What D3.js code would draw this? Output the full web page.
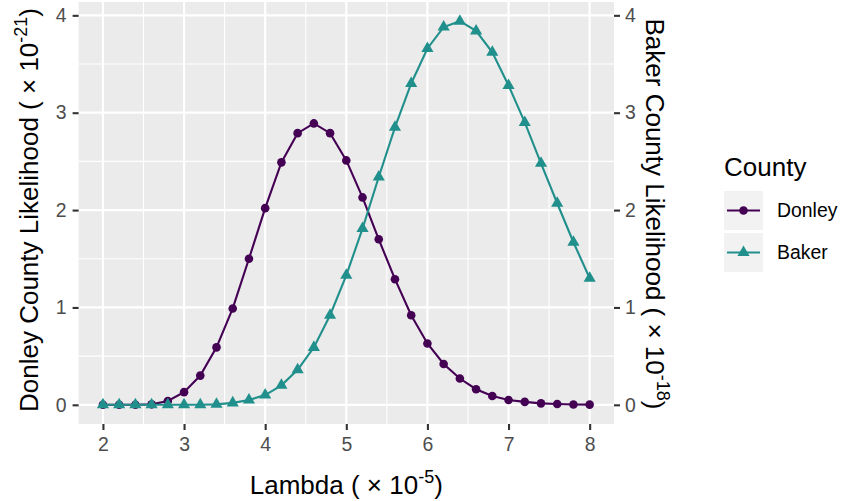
<!DOCTYPE html>
<html>
<head>
<meta charset="utf-8">
<script src="https://cdn.jsdelivr.net/npm/d3@7"></script>
<style>
body{margin:0;background:#fff;}
svg{font-family:"Liberation Sans",Arial,sans-serif;}
</style>
</head>
<body>
<svg id="chart" width="847" height="501"></svg>
<script>
// lambda values (x 10^-5)
const lambda = [2,2.2,2.4,2.6,2.8,3,3.2,3.4,3.6,3.8,4,4.2,4.4,4.6,4.8,5,5.2,5.4,5.6,5.8,6,6.2,6.4,6.6,6.8,7,7.2,7.4,7.6,7.8,8];
// Donley likelihood (x 10^-21)
const donley = [0,0,0.001,0.005,0.04,0.13,0.3,0.59,0.99,1.5,2.02,2.49,2.79,2.89,2.79,2.51,2.13,1.7,1.29,0.92,0.63,0.42,0.27,0.16,0.09,0.05,0.03,0.015,0.008,0.004,0.002];
// Baker likelihood (x 10^-18)
const baker = [0,0,0,0,0,0,0.001,0.005,0.02,0.05,0.1,0.2,0.36,0.59,0.92,1.33,1.81,2.34,2.85,3.3,3.66,3.88,3.94,3.84,3.62,3.28,2.9,2.48,2.07,1.67,1.3];
const counties = ["Donley","Baker"];
const colors = ["#440154","#21908C"];
const xTicks = [2,3,4,5,6,7,8];
const yTicks = [0,1,2,3,4];

const svg = d3.select("#chart");
const L = 78.6, R = 614, T = 2, B = 424;

const xmin = d3.min(lambda), xmax = d3.max(lambda);
const xpad = (xmax-xmin)*0.05;
const x = d3.scaleLinear().domain([xmin-xpad, xmax+xpad]).range([L,R]);
const ymax = d3.max(donley.concat(baker));
const y = d3.scaleLinear().domain([-ymax*0.05, ymax*1.05]).range([B,T]);

// panel
svg.append("rect").attr("x",L).attr("y",T).attr("width",R-L).attr("height",B-T).attr("fill","#EBEBEB");

const xMinor = [2.5,3.5,4.5,5.5,6.5,7.5];
const yMinor = [0.5,1.5,2.5,3.5];
const grid = svg.append("g");
grid.selectAll(".xm").data(xMinor).enter().append("line")
  .attr("x1",d=>x(d)).attr("x2",d=>x(d)).attr("y1",T).attr("y2",B)
  .attr("stroke","#fff").attr("stroke-width",1.1);
grid.selectAll(".ym").data(yMinor).enter().append("line")
  .attr("x1",L).attr("x2",R).attr("y1",d=>y(d)).attr("y2",d=>y(d))
  .attr("stroke","#fff").attr("stroke-width",1.1);
grid.selectAll(".xM").data(xTicks).enter().append("line")
  .attr("x1",d=>x(d)).attr("x2",d=>x(d)).attr("y1",T).attr("y2",B)
  .attr("stroke","#fff").attr("stroke-width",2.2);
grid.selectAll(".yM").data(yTicks).enter().append("line")
  .attr("x1",L).attr("x2",R).attr("y1",d=>y(d)).attr("y2",d=>y(d))
  .attr("stroke","#fff").attr("stroke-width",2.2);

// axes
function styleAxis(g){
  g.select(".domain").remove();
  g.selectAll(".tick line").attr("stroke","#333333").attr("stroke-width",2.1);
  g.selectAll(".tick text").attr("fill","#4D4D4D").style("font-size","19.4px").style("font-family","Liberation Sans, Arial, sans-serif");
}
svg.append("g").attr("transform",`translate(0,${B})`)
  .call(d3.axisBottom(x).tickValues(xTicks).tickSize(6).tickPadding(7).tickFormat(d3.format("d")))
  .call(styleAxis);
svg.append("g").attr("transform",`translate(${L},0)`)
  .call(d3.axisLeft(y).tickValues(yTicks).tickSize(6).tickPadding(6).tickFormat(d3.format("d")))
  .call(styleAxis);
svg.append("g").attr("transform",`translate(${R},0)`)
  .call(d3.axisRight(y).tickValues(yTicks).tickSize(6).tickPadding(5).tickFormat(d3.format("d")))
  .call(styleAxis);

// series
const series = [donley, baker];
const symbols = [d3.symbolCircle, d3.symbolTriangle];
const line = d3.line().x((d,i)=>x(lambda[i])).y(d=>y(d));
series.forEach((vals,k)=>{
  svg.append("path").datum(vals).attr("d",line)
    .attr("fill","none").attr("stroke",colors[k]).attr("stroke-width",2.1);
  svg.append("g").selectAll("path").data(vals).enter().append("path")
    .attr("d",d3.symbol().type(symbols[k]).size(k==0?58:64))
    .attr("transform",(d,i)=>`translate(${x(lambda[i])},${y(d)})`)
    .attr("fill",colors[k]);
});

// axis titles
function supTitle(g, main, sup){
  const t = g.append("text").attr("fill","#000").style("font-size","26px");
  t.append("tspan").text(main);
  t.append("tspan").attr("dy",-11).style("font-size","18px").text(sup);
  t.append("tspan").attr("dy",11).text(")");
  return t;
}
supTitle(svg.append("g").attr("transform",`translate(${(L+R)/2},494)`),"Lambda ( \u00d7 10","-5")
  .attr("text-anchor","middle");
supTitle(svg.append("g").attr("transform",`translate(37.5,210) rotate(-90)`),"Donley County Likelihood ( \u00d7 10","-21")
  .attr("text-anchor","middle");
supTitle(svg.append("g").attr("transform",`translate(646,214) rotate(90)`),"Baker County Likelihood ( \u00d7 10","-18")
  .attr("text-anchor","middle");

// legend
const lg = svg.append("g").attr("transform","translate(724,0)");
lg.append("text").attr("x",0).attr("y",176).style("font-size","26px").attr("fill","#000").text("County");
counties.forEach((c,k)=>{
  const top = 191 + k*42;
  lg.append("rect").attr("x",0).attr("y",top).attr("width",39).attr("height",39).attr("fill","#F2F2F2");
  lg.append("line").attr("x1",3).attr("x2",36).attr("y1",top+19.5).attr("y2",top+19.5)
    .attr("stroke",colors[k]).attr("stroke-width",2.1);
  lg.append("path").attr("d",d3.symbol().type(symbols[k]).size(k==0?58:64))
    .attr("transform",`translate(19.5,${top+19.5})`).attr("fill",colors[k]);
  lg.append("text").attr("x",53).attr("y",top+19.5).attr("dy","0.35em")
    .style("font-size","19.4px").attr("fill","#000").text(c);
});
</script>
</body>
</html>
